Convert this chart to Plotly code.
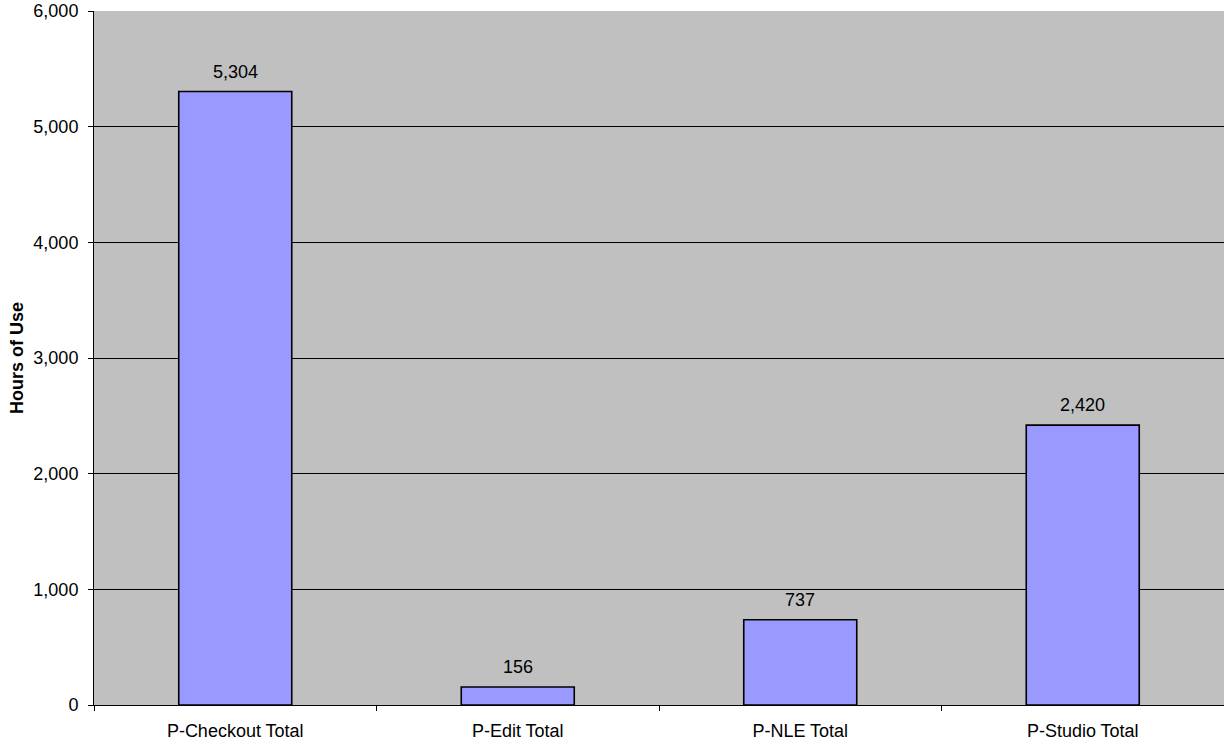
import plotly.graph_objects as go

# Hours of use by facility
categories = ["P-Checkout Total", "P-Edit Total", "P-NLE Total", "P-Studio Total"]
hours = [5304, 156, 737, 2420]
y_ticks = [0, 1000, 2000, 3000, 4000, 5000, 6000]

FONT = "Liberation Sans, Arial, sans-serif"

fig = go.Figure()
fig.add_trace(go.Bar(
    x=categories,
    y=hours,
    width=0.4,
    marker=dict(color="#9999FF", line=dict(color="#000000", width=1.6)),
    hoverinfo="skip",
))

# value labels above each bar
for cat, val in zip(categories, hours):
    fig.add_annotation(
        x=cat, y=val, text=f"{val:,}", showarrow=False,
        yanchor="bottom", yshift=8,
        font=dict(family=FONT, size=18, color="#000000"),
    )

fig.update_layout(
    width=1224, height=744,
    margin=dict(l=94, r=0, t=11, b=39, pad=0),
    paper_bgcolor="#FFFFFF",
    plot_bgcolor="#C0C0C0",
    showlegend=False,
    font=dict(family=FONT, size=18, color="#000000"),
    xaxis=dict(
        type="category",
        range=[-0.5, 3.5],
        tickson="boundaries",
        ticks="outside", ticklen=5, tickcolor="#000000", tickwidth=1,
        ticklabelstandoff=9,
        showgrid=False,
        showline=True, linecolor="#000000", linewidth=1,
        tickfont=dict(family=FONT, size=18),
        fixedrange=True,
    ),
    yaxis=dict(
        range=[0, 6000],
        tickvals=y_ticks,
        ticktext=[f"{v:,}" for v in y_ticks],
        ticks="outside", ticklen=5, tickcolor="#000000", tickwidth=1,
        ticklabelstandoff=6,
        showgrid=True, gridcolor="#000000", gridwidth=1,
        showline=True, linecolor="#000000", linewidth=1,
        zeroline=False,
        tickfont=dict(family=FONT, size=18),
        title=dict(text="<b>Hours of Use</b>", font=dict(family=FONT, size=18), standoff=5),
        fixedrange=True,
    ),
)

fig.write_html("out.html")
